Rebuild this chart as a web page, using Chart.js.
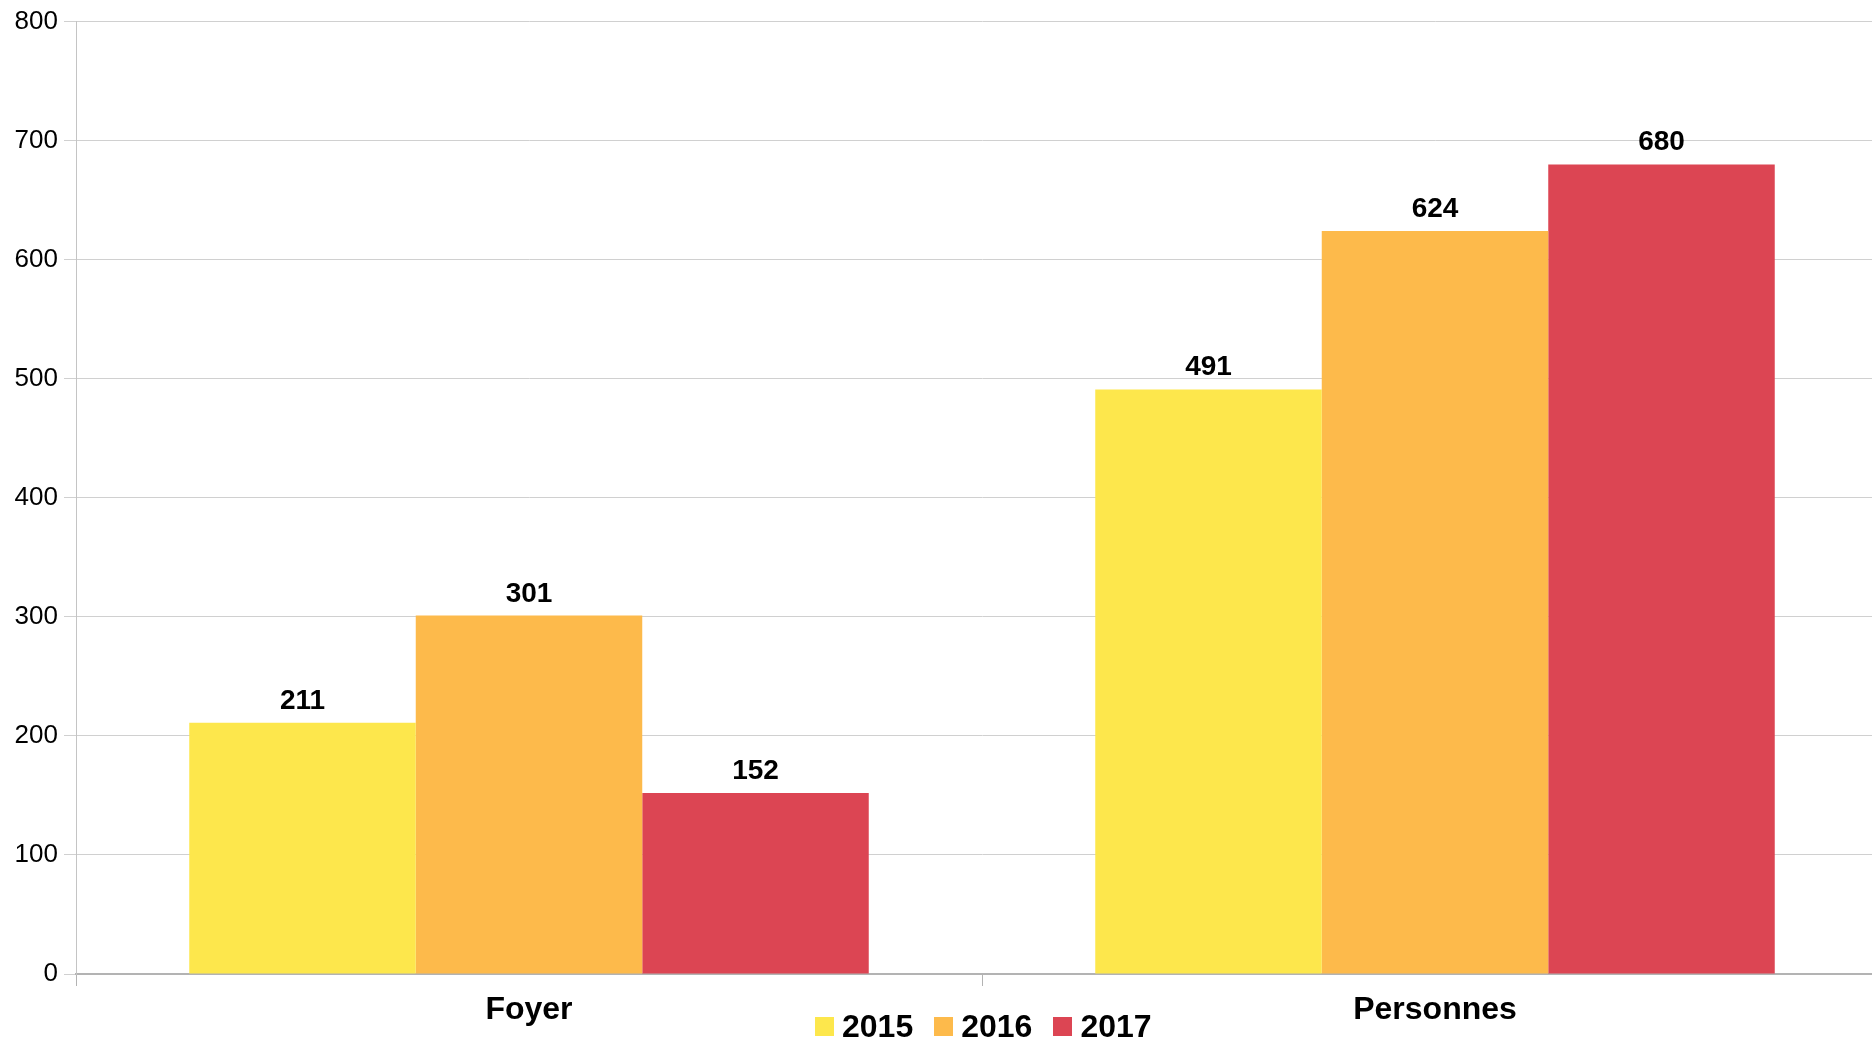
<!DOCTYPE html>
<html>
<head>
<meta charset="utf-8">
<script src="https://cdn.jsdelivr.net/npm/chart.js@4.4.1/dist/chart.umd.min.js"></script>
<style>
  html, body { margin: 0; padding: 0; background: #fff; overflow: hidden; }
  #wrap { position: relative; width: 1872px; height: 1041px; overflow: hidden; }
  #box { position: absolute; left: 0; top: 0; width: 1890px; height: 1041px; }
  #legend { position: absolute; left: 815px; top: 1010px; display: flex; font: bold 32px "Liberation Sans", Arial, sans-serif; color: #000; }
  #legend .item { display: flex; align-items: center; height: 32px; line-height: 32px; margin-right: 21px; }
  #legend .swatch { width: 19px; height: 19px; margin-right: 8px; }
</style>
</head>
<body>
<div id="wrap">
  <div id="box"><canvas id="chart" width="1890" height="1041"></canvas></div>
  <div id="legend"></div>
</div>
<script>
const categories = ['Foyer', 'Personnes'];
const years = ['2015', '2016', '2017'];
const values2015 = [211, 491];
const values2016 = [301, 624];
const values2017 = [152, 680];
const yTicks = [0, 100, 200, 300, 400, 500, 600, 700, 800];
const colors = ['#fde74c', '#fdba4b', '#dc4553'];

const font = '"Liberation Sans", Arial, sans-serif';

// value labels above each bar
const barLabels = {
  id: 'barLabels',
  afterDatasetsDraw(chart) {
    const ctx = chart.ctx;
    ctx.save();
    ctx.font = 'bold 28px ' + font;
    ctx.fillStyle = '#000';
    ctx.textAlign = 'center';
    ctx.textBaseline = 'alphabetic';
    chart.data.datasets.forEach((ds, i) => {
      chart.getDatasetMeta(i).data.forEach((bar, j) => {
        ctx.fillText(ds.data[j], bar.x, bar.y - 14);
      });
    });
    ctx.restore();
  }
};

const data = {
  labels: categories,
  datasets: [
    { label: years[0], data: values2015, backgroundColor: colors[0] },
    { label: years[1], data: values2016, backgroundColor: colors[1] },
    { label: years[2], data: values2017, backgroundColor: colors[2] }
  ]
};

const config = {
  type: 'bar',
  data: data,
  options: {
    responsive: false,
    animation: false,
    layout: { padding: { top: 21.5, right: 2, left: 0, bottom: 0 } },
    datasets: { bar: { categoryPercentage: 0.75, barPercentage: 1.0, borderWidth: 0 } },
    plugins: {
      legend: { display: false },
      tooltip: { enabled: false }
    },
    scales: {
      x: {
        afterFit(scale) { scale.height = 67; },
        grid: { drawOnChartArea: false, offset: true, tickLength: 12, color: '#b3b3b3' },
        border: { color: '#b3b3b3', width: 2 },
        ticks: { color: '#000', padding: 5, font: { family: font, size: 32, weight: 'bold' } }
      },
      y: {
        min: 0,
        max: 800,
        afterFit(scale) {
          scale.width = 76;
          scale.paddingTop = 0;
          scale.paddingBottom = 0;
        },
        afterBuildTicks(scale) { scale.ticks = yTicks.map(v => ({ value: v })); },
        grid: { color: '#d0d0d0', tickLength: 12 },
        border: { color: '#c4c4c4' },
        ticks: { color: '#000', padding: 6, font: { family: font, size: 26 } }
      }
    }
  },
  plugins: [barLabels]
};

const chart = new Chart(document.getElementById('chart'), config);

// legend built from the datasets
const legendElem = document.getElementById('legend');
chart.data.datasets.forEach(ds => {
  const item = document.createElement('div');
  item.className = 'item';
  const swatch = document.createElement('span');
  swatch.className = 'swatch';
  swatch.style.background = ds.backgroundColor;
  const text = document.createElement('span');
  text.textContent = ds.label;
  item.appendChild(swatch);
  item.appendChild(text);
  legendElem.appendChild(item);
});
</script>
</body>
</html>
